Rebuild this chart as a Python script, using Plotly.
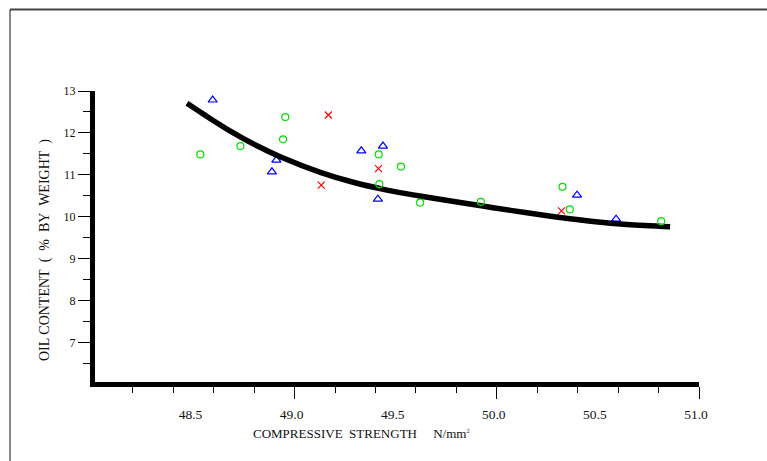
import plotly.graph_objects as go

# Fitted curve
curve_x = [48.468, 48.549, 48.682, 48.814, 48.929, 49.127, 49.290, 49.457, 49.611,
           49.819, 49.982, 50.149, 50.313, 50.477, 50.643, 50.857]
curve_y = [12.707, 12.449, 12.044, 11.694, 11.431, 11.060, 10.824, 10.638, 10.504,
           10.344, 10.218, 10.096, 9.985, 9.889, 9.818, 9.765]

# Green open circles
circ_x = [48.534, 48.732, 48.943, 48.954, 49.416, 49.526, 49.419, 49.621, 49.921,
          50.325, 50.361, 50.813]
circ_y = [11.489, 11.687, 11.847, 12.379, 11.489, 11.198, 10.780, 10.339, 10.358,
          10.716, 10.177, 9.897]

# Blue open triangles
tri_x = [48.595, 48.910, 48.888, 49.330, 49.437, 49.412, 50.397, 50.590]
tri_y = [12.785, 11.353, 11.074, 11.575, 11.687, 10.422, 10.518, 9.945]

# Red crosses
cross_x = [49.167, 49.415, 49.132, 50.320]
cross_y = [12.427, 11.150, 10.757, 10.143]

x_labels_vals = [48.5, 49.0, 49.5, 50.0, 50.5, 51.0]
x_labels_text = ["48.5", "49.0", "49.5", "50.0", "50.5", "51.0"]
x_major = [49.0, 50.0, 51.0]
y_major = [7, 8, 9, 10, 11, 12, 13]

FONT = "Liberation Serif"

fig = go.Figure()
fig.add_trace(go.Scatter(x=circ_x, y=circ_y, mode="markers", xaxis="x2", yaxis="y",
                         marker=dict(symbol="circle-open", size=7, color="#00e000",
                                     line=dict(width=1.2, color="#00e000")),
                         showlegend=False, hoverinfo="skip"))
fig.add_trace(go.Scatter(x=tri_x, y=tri_y, mode="markers",
                         marker=dict(symbol="triangle-up-open", size=8, color="#0000ff",
                                     line=dict(width=1.2, color="#0000ff")),
                         showlegend=False, hoverinfo="skip"))
fig.add_trace(go.Scatter(x=cross_x, y=cross_y, mode="markers",
                         marker=dict(symbol="x-thin-open", size=7, color="#ff0000",
                                     line=dict(width=1.2, color="#ff0000")),
                         showlegend=False, hoverinfo="skip"))
fig.add_trace(go.Scatter(x=curve_x, y=curve_y, mode="lines",
                         line=dict(color="black", width=5.5, shape="spline", smoothing=1.0),
                         showlegend=False, hoverinfo="skip"))

L, R, T, B = 95, 68, 91, 79
W, H = 767, 461
pw, ph = W - L - R, H - T - B

def px2paper_x(px):
    return (px - L) / pw

def py2paper_y(py):
    return (H - B - py) / ph

XR = [48.013, 51.0]

fig.update_layout(
    width=W, height=H,
    margin=dict(l=L, r=R, t=T, b=B, pad=0),
    paper_bgcolor="white", plot_bgcolor="white",
    font=dict(family=FONT, color="#111111"),
    xaxis=dict(range=XR, showgrid=False, zeroline=False,
               showline=True, linewidth=5, linecolor="black",
               tickmode="array", tickvals=x_major, ticks="outside", ticklen=12,
               tickwidth=1, tickcolor="black", showticklabels=False,
               minor=dict(tick0=48.0, dtick=0.2, ticks="outside", ticklen=6,
                          tickwidth=1, tickcolor="black", showgrid=False)),
    xaxis2=dict(range=XR, overlaying="x", side="bottom", anchor="y",
                showgrid=False, zeroline=False, showline=False,
                tickmode="array", tickvals=x_labels_vals, ticktext=x_labels_text,
                ticks="", ticklabelstandoff=22, ticklabelshift=-3,
                tickfont=dict(family=FONT, size=13.5, color="#111111")),
    yaxis=dict(range=[6.063, 13.0], showgrid=False, zeroline=False,
               showline=True, linewidth=5, linecolor="black",
               tickmode="array", tickvals=y_major, ticks="outside", ticklen=12,
               tickwidth=1, tickcolor="black",
               tickfont=dict(family=FONT, size=12, color="#111111"),
               minor=dict(tick0=0, dtick=0.5, ticks="outside", ticklen=7,
                          tickwidth=1, tickcolor="black", showgrid=False)),
    shapes=[
        dict(type="line", xref="paper", yref="paper",
             x0=px2paper_x(10), x1=px2paper_x(767), y0=py2paper_y(9.5), y1=py2paper_y(9.5),
             line=dict(color="#444444", width=2)),
        dict(type="line", xref="paper", yref="paper",
             x0=px2paper_x(10), x1=px2paper_x(10), y0=py2paper_y(9.5), y1=py2paper_y(461),
             line=dict(color="#111111", width=1)),
    ],
    annotations=[
        dict(text="COMPRESSIVE\u00a0\u00a0STRENGTH\u00a0\u00a0\u00a0\u00a0\u00a0N/mm<sup><span style='font-size:6px'>2</span></sup>",
             xref="paper", yref="paper", x=px2paper_x(361), y=py2paper_y(433),
             xanchor="center", yanchor="middle", showarrow=False,
             font=dict(family=FONT, size=13, color="#111111")),
        dict(text="OIL CONTENT\u00a0 (\u00a0 %\u00a0 BY\u00a0 WEIGHT\u00a0 )",
             xref="paper", yref="paper", x=px2paper_x(45), y=py2paper_y(250),
             xanchor="center", yanchor="middle", showarrow=False, textangle=-90,
             font=dict(family=FONT, size=14, color="#111111")),
    ],
)

fig.write_html("out.html", config={"displayModeBar": False},
               post_script="document.body.style.margin='0';document.body.style.overflow='hidden';")
